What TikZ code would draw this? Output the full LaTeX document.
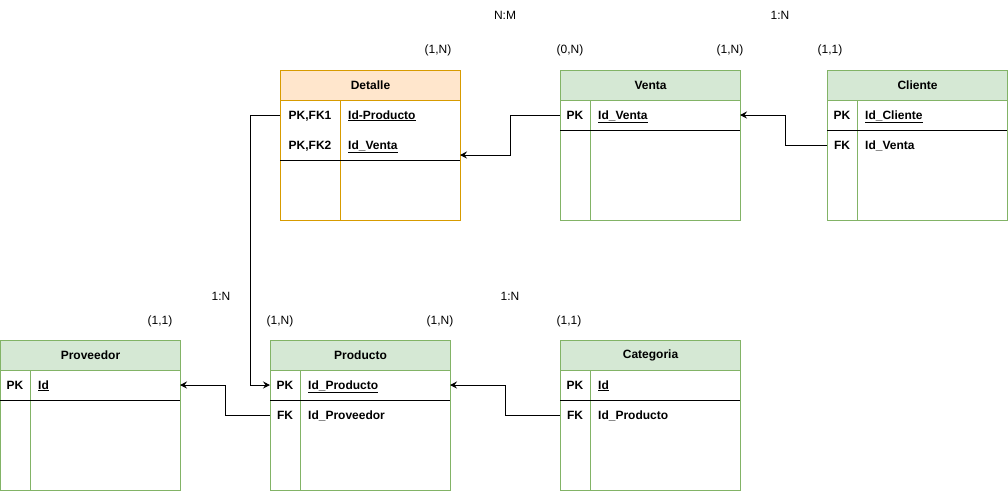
\documentclass[tikz,border=0pt]{standalone}
\usepackage{fontspec}
\setmainfont{Liberation Sans}
\usetikzlibrary{arrows.meta}
\definecolor{gfill}{HTML}{D5E8D4}
\definecolor{gline}{HTML}{82B366}
\definecolor{ofill}{HTML}{FFE6CC}
\definecolor{oline}{HTML}{D79B00}
\newcommand{\keyu}[1]{\underline{#1}}
% name, x, y, title, fill, line, divider offset
\newcommand{\ertable}[7]{%
  \node[tblbox, draw=#6] (#1) at (#2,#3) {};
  \node[hdrbox, fill=#5, draw=#6] (#1-h) at (#2,#3) {#4};
  \draw[#6, line width=1pt] ([xshift=#7pt]#1-h.south west) -- ([xshift=#7pt]#1.south west);
}
\begin{document}
\begin{tikzpicture}[x=1pt, y=-1pt,
  tblbox/.style={line width=1pt, minimum width=180pt, minimum height=150pt, anchor=north west, inner sep=0pt, fill=white},
  hdrbox/.style={line width=1pt, minimum width=180pt, minimum height=30pt, anchor=north west, inner sep=0pt, font=\fontsize{12}{14}\selectfont\bfseries},
  txt/.style={font=\fontsize{12}{14}\selectfont\bfseries, inner sep=0pt},
  lbl/.style={font=\fontsize{12}{14}\selectfont, inner sep=0pt},
  sepline/.style={black, line width=1pt},
  conn/.style={black, line width=1pt, -{Stealth[length=7pt, width=7pt, inset=2.5pt]}}
]
\useasboundingbox (0,0) rectangle (1008,491);

% Tables
\ertable{det}{280}{70}{Detalle}{ofill}{oline}{60}
\ertable{ven}{560}{70}{Venta}{gfill}{gline}{30}
\ertable{cli}{827}{70}{Cliente}{gfill}{gline}{30}
\ertable{pro}{0}{340}{Proveedor}{gfill}{gline}{30}
\ertable{prd}{270}{340}{Producto}{gfill}{gline}{30}
\ertable{cat}{560}{340}{Categoria}{gfill}{gline}{30}

% separator lines
\draw[sepline] (280,160) -- (460,160);
\draw[sepline] (560,130) -- (740,130);
\draw[sepline] (827,130) -- (1007,130);
\draw[sepline] (0,400) -- (180,400);
\draw[sepline] (270,400) -- (450,400);
\draw[sepline] (560,400) -- (740,400);

% Detalle rows
\node[txt, anchor=base] (det-k1) at (310,119) {PK,FK1};
\node[txt, anchor=base west] (det-v1) at (348,119) {\keyu{Id-Producto}};
\node[txt, anchor=base] (det-k2) at (310,149) {PK,FK2};
\node[txt, anchor=base west] (det-v2) at (348,149) {\keyu{Id\_Venta}};
% Venta rows
\node[txt, anchor=base] (ven-k1) at (575,119) {PK};
\node[txt, anchor=base west] (ven-v1) at (598,119) {\keyu{Id\_Venta}};
% Cliente rows
\node[txt, anchor=base] (cli-k1) at (842,119) {PK};
\node[txt, anchor=base west] (cli-v1) at (865,119) {\keyu{Id\_Cliente}};
\node[txt, anchor=base] (cli-k2) at (842,149) {FK};
\node[txt, anchor=base west] (cli-v2) at (865,149) {Id\_Venta};
% Proveedor rows
\node[txt, anchor=base] (pro-k1) at (15,389) {PK};
\node[txt, anchor=base west] (pro-v1) at (38,389) {\keyu{Id}};
% Producto rows
\node[txt, anchor=base] (prd-k1) at (285,389) {PK};
\node[txt, anchor=base west] (prd-v1) at (308,389) {\keyu{Id\_Producto}};
\node[txt, anchor=base] (prd-k2) at (285,419) {FK};
\node[txt, anchor=base west] (prd-v2) at (308,419) {Id\_Proveedor};
% Categoria rows
\node[txt, anchor=base] (cat-k1) at (575,389) {PK};
\node[txt, anchor=base west] (cat-v1) at (598,389) {\keyu{Id}};
\node[txt, anchor=base] (cat-k2) at (575,419) {FK};
\node[txt, anchor=base west] (cat-v2) at (598,419) {Id\_Producto};

% Connector end coordinates
\coordinate (ven-w) at (560,115);
\coordinate (det-e) at (460,155);
\coordinate (cli-w) at (827,145);
\coordinate (ven-e) at (740,115);
\coordinate (det-w) at (280,115);
\coordinate (prd-w) at (270,385);
\coordinate (prd-wf) at (270,415);
\coordinate (pro-e) at (180,385);
\coordinate (cat-w) at (560,415);
\coordinate (prd-e) at (450,385);

% Connectors
\draw[conn] (ven-w) -- (510,115) -- (510,155) -- (det-e);
\draw[conn] (cli-w) -- (785,145) -- (785,115) -- (ven-e);
\draw[conn] (det-w) -- (250,115) -- (250,385) -- (prd-w);
\draw[conn] (prd-wf) -- (225,415) -- (225,385) -- (pro-e);
\draw[conn] (cat-w) -- (505,415) -- (505,385) -- (prd-e);

% Cardinality labels
\node[lbl] (l1) at (505,15) {N:M};
\node[lbl] (l2) at (780,15) {1:N};
\node[lbl] (l3) at (438,50) {(1,N)};
\node[lbl] (l4) at (570,50) {(0,N)};
\node[lbl] (l5) at (730,50) {(1,N)};
\node[lbl] (l6) at (830,50) {(1,1)};
\node[lbl] (l7) at (221,296) {1:N};
\node[lbl] (l8) at (510,296) {1:N};
\node[lbl] (l9) at (160,321) {(1,1)};
\node[lbl] (l10) at (280,321) {(1,N)};
\node[lbl] (l11) at (440,321) {(1,N)};
\node[lbl] (l12) at (569,321) {(1,1)};
\end{tikzpicture}
\end{document}
